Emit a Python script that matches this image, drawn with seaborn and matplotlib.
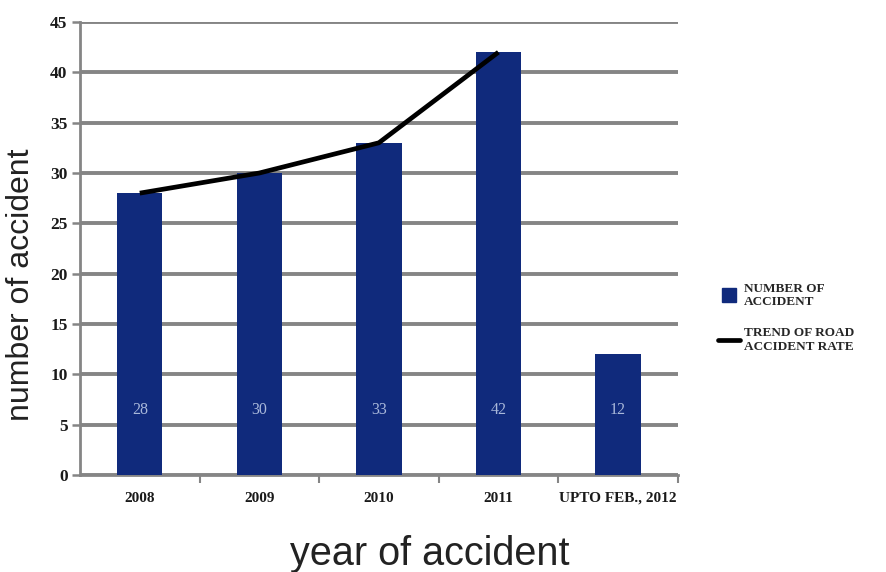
import numpy as np
import pandas as pd
import matplotlib
matplotlib.use("Agg")
import matplotlib.pyplot as plt
from matplotlib.lines import Line2D
import seaborn as sns

# ---- data ----
categories = ["2008", "2009", "2010", "2011", "UPTO FEB., 2012"]
accidents = [28, 30, 33, 42, 12]
trend_categories = ["2008", "2009", "2010", "2011"]
trend_values = [28, 30, 33, 42]
yticks = [0, 5, 10, 15, 20, 25, 30, 35, 40, 45]

bar_color = "#102a7c"
grid_color = "#858585"

sns.set_theme(style="white")
plt.rcParams["font.family"] = ["Liberation Sans", "DejaVu Sans"]

fig = plt.figure(figsize=(8.87, 5.72), dpi=100)
ax = fig.add_axes([0.0902, 0.1696, 0.6738, 0.7919])

df = pd.DataFrame({"year": categories, "n": accidents})
sns.barplot(data=df, x="year", y="n", color=bar_color, saturation=1,
            width=0.38, ax=ax, zorder=3, edgecolor="none")

tdf = pd.DataFrame({"pos": [categories.index(c) for c in trend_categories],
                    "v": trend_values})
sns.lineplot(data=tdf, x="pos", y="v", color="black", lw=3.4, ax=ax,
             zorder=4, solid_capstyle="butt")

# value labels inside bars
for i, v in enumerate(accidents):
    ax.text(i, 6.5, str(v), ha="center", va="center", color="#a9b8da",
            fontsize=11.5, family="Liberation Serif", zorder=5)

ax.set_xlim(-0.5, len(categories) - 0.5)
ax.set_ylim(0, 45)
ax.set_yticks(yticks)
ax.set_yticklabels([str(t) for t in yticks], family="Liberation Serif",
                   fontweight="bold", fontsize=12.5, color="#1a1a1a")
ax.yaxis.grid(True, color=grid_color, lw=2.8, zorder=0)
ax.set_axisbelow(True)

# x ticks: labels centered, tick marks at boundaries
ax.set_xticks(range(len(categories)))
ax.set_xticklabels(categories, family="Liberation Serif", fontweight="bold",
                   fontsize=11, color="#1a1a1a")
ax.tick_params(axis="x", length=0, pad=12)
ax.set_xticks(np.arange(len(categories)) + 0.5, minor=True)
ax.tick_params(axis="x", which="minor", length=6, width=1.5, color=grid_color,
               direction="out", bottom=True)
ax.tick_params(axis="y", length=6, width=1.8, color=grid_color,
               direction="out", left=True, pad=3)

for s in ["top", "right"]:
    ax.spines[s].set_visible(False)
for s in ["left", "bottom"]:
    ax.spines[s].set_color(grid_color)
    ax.spines[s].set_linewidth(2)

ax.set_xlabel("year of accident", fontsize=28.5, color="#222222")
ax.xaxis.set_label_coords(0.585, -0.132)
ax.set_ylabel("number of accident", fontsize=23, color="#222222")
ax.yaxis.set_label_coords(-0.073, 0.42)

handles = [
    Line2D([], [], marker="s", linestyle="none", markersize=10,
           markerfacecolor=bar_color, markeredgecolor=bar_color),
    Line2D([], [], color="black", lw=3.4),
]
labels = ["NUMBER OF\nACCIDENT", "TREND OF ROAD\nACCIDENT RATE"]
ax.legend(handles, labels, loc="upper left", bbox_to_anchor=(0.803, 0.515),
          bbox_transform=fig.transFigure, frameon=False, handlelength=1.7,
          handletextpad=0.3, labelspacing=1.4, borderaxespad=0,
          prop={"family": "Liberation Serif", "weight": "bold", "size": 9.5})

fig.savefig("out.png", dpi=100)
